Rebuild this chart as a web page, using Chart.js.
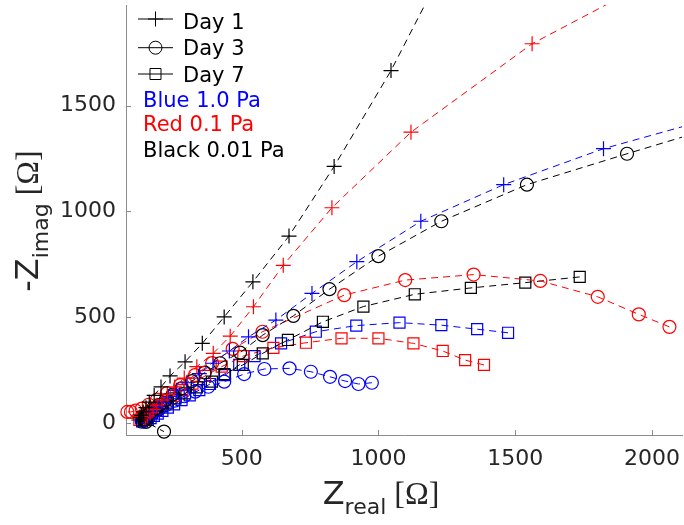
<!DOCTYPE html>
<html lang="en">
<head>
<meta charset="UTF-8">
<title>Nyquist plot</title>
<script src="https://cdn.jsdelivr.net/npm/chart.js"></script>
<style>
    body { margin: 0; background: #fff; }
    #wrap { width: 684px; height: 525px; }
</style>
</head>
<body>
<div id="wrap"><canvas id="nyquist" width="684" height="525"></canvas></div>
<script>
// impedance points [Z_real, -Z_imag] in ohm, low frequency end first
const blackDay1 = [[1285,2265],[1046,1665],[838,1212],[673,883],[541,667],[436,501],[356,376],[293,289],[238,222],[205,170],[180,130],[162,98],[150,72],[140,52],[133,36],[128,24],[124,14]];
const redDay1 = [[2000,2090],[1562,1792],[1119,1374],[830,1017],[652,745],[543,549],[458,410],[396,329],[336,266],[290,212],[255,170],[228,135],[208,108],[190,84],[176,64],[165,48],[155,34],[148,24]];
const blueDay1 = [[2250,1450],[1823,1296],[1458,1126],[1155,953],[921,762],[757,612],[625,486],[525,407],[455,340],[395,282],[345,233],[300,190],[262,155],[232,125],[208,100],[190,78],[175,60],[165,45],[157,32]];

const blackDay3 = [[2250,1405],[1909,1272],[1543,1126],[1230,953],[1000,788],[821,632],[689,506],[577,415],[494,332],[421,282],[365,238],[318,198],[280,164],[248,134],[222,108],[200,86],[182,66],[165,48],[152,32],[145,18],[150,5],[216,-41]];
const redDay3 = [[2064,454],[1952,513],[1802,596],[1592,671],[1348,701],[1098,675],[875,604],[576,431],[467,350],[392,283],[329,226],[275,179],[227,141],[190,110],[160,86],[135,68],[112,58],[95,52],[82,52]];
const blueDay3 = [[976,190],[927,184],[878,198],[823,218],[753,242],[675,258],[583,255],[509,231],[436,195],[378,171],[330,148],[290,126],[255,105],[225,86],[200,68],[180,52],[165,38],[152,25],[142,14],[135,6]];

const blackDay7 = [[1736,690],[1537,663],[1338,638],[1133,608],[945,550],[797,478],[669,392],[577,329],[504,274],[437,231],[391,195],[336,168],[293,140],[258,116],[230,96],[207,78],[188,62],[172,48],[160,36],[150,25],[142,15],[136,7]];
const redDay7 = [[1386,274],[1317,297],[1235,340],[1128,376],[1000,400],[865,400],[735,379],[616,355],[506,316],[427,266],[366,222],[320,186],[283,155],[252,128],[226,106],[204,87],[186,70],[170,56],[156,43],[144,32],[134,22],[126,14]];
const blueDay7 = [[1474,426],[1361,443],[1230,462],[1077,474],[919,460],[771,431],[644,376],[547,316],[491,274],[439,226],[384,184],[345,155],[310,130],[280,108],[253,88],[230,72],[210,57],[193,44],[179,33],[167,23],[157,14]];

const xTicks = [500, 1000, 1500, 2000];
const yTicks = [0, 500, 1000, 1500];
const xRange = [77, 2110];
const yRange = [-57, 1975];

const dayLabels = ['Day 1', 'Day 3', 'Day 7'];
const stressLabels = ['Blue 1.0 Pa', 'Red 0.1 Pa', 'Black 0.01 Pa'];
const stressColors = ['#0000ff', '#ff0000', '#000000'];

const axisColor = '#8c8c8c';
const textColor = '#262626';
const sans = 'DejaVu Sans';

// marker per day: + / circle / square
const markers = {
    cross: { style: 'cross', radius: 7.5 },
    circle: { style: 'circle', radius: 6.5 },
    rect: { style: 'rect', radius: 7.8 }
};

function series(points, color, marker) {
    return {
        data: points.map(p => ({ x: p[0], y: p[1] })),
        showLine: true,
        borderColor: color,
        borderWidth: 1,
        borderDash: [7, 5],
        pointStyle: marker.style,
        pointRadius: marker.radius,
        pointBorderColor: color,
        pointBackgroundColor: 'rgba(0,0,0,0)',
        pointBorderWidth: 1.2,
        clip: { left: 10, top: 0, right: 0, bottom: 10 }
    };
}

// no extra room for overhanging tick labels
function fixBox(s, size) {
    if (s.isHorizontal()) s.height = size; else s.width = size;
    s.paddingLeft = s.paddingRight = s.paddingTop = s.paddingBottom = 0;
}

// inward ticks, axis titles and the legend block
const decorations = {
    id: 'decorations',
    afterDraw(chart) {
        const ctx = chart.ctx;
        const area = chart.chartArea;
        const xs = chart.scales.x, ys = chart.scales.y;
        ctx.save();

        ctx.strokeStyle = axisColor;
        ctx.lineWidth = 1;
        xTicks.forEach(v => {
            const px = Math.round(xs.getPixelForValue(v)) + 0.5;
            ctx.beginPath();
            ctx.moveTo(px, area.bottom);
            ctx.lineTo(px, area.bottom - 5);
            ctx.stroke();
        });
        yTicks.forEach(v => {
            const py = Math.round(ys.getPixelForValue(v)) + 0.5;
            ctx.beginPath();
            ctx.moveTo(area.left, py);
            ctx.lineTo(area.left + 5, py);
            ctx.stroke();
        });

        // axis titles with subscripts
        function title(main, sub, unit) {
            ctx.font = '32px "' + sans + '"';
            const w1 = ctx.measureText(main).width;
            ctx.font = '22px "' + sans + '"';
            const w2 = ctx.measureText(sub).width;
            ctx.font = '32px "Liberation Serif"';
            const w3 = ctx.measureText(unit).width;
            let x = -(w1 + w2 + w3) / 2;
            ctx.textAlign = 'left';
            ctx.textBaseline = 'alphabetic';
            ctx.fillStyle = textColor;
            ctx.font = '32px "' + sans + '"';
            ctx.fillText(main, x, 0);
            x += w1;
            ctx.font = '22px "' + sans + '"';
            ctx.fillText(sub, x, 10);
            x += w2;
            ctx.font = '32px "Liberation Serif"';
            ctx.fillText(unit, x, 0);
        }
        ctx.save();
        ctx.translate(381, 504);
        title('Z', 'real', ' [\u03A9]');
        ctx.restore();

        ctx.save();
        ctx.translate(38, 221);
        ctx.rotate(-Math.PI / 2);
        title('-Z', 'imag', ' [\u03A9]');
        ctx.restore();

        // legend: day markers
        const rows = [19, 47.7, 74];
        const styles = [markers.cross, markers.circle, markers.rect];
        ctx.strokeStyle = '#000';
        ctx.fillStyle = 'rgba(0,0,0,0)';
        ctx.lineWidth = 1;
        rows.forEach((y, i) => {
            ctx.beginPath();
            ctx.moveTo(138, y);
            ctx.lineTo(173, y);
            ctx.stroke();
            Chart.helpers.drawPoint(ctx, {
                pointStyle: styles[i].style,
                radius: styles[i].radius,
                borderWidth: 1.2,
                rotation: 0
            }, 155.5, y);
        });
        ctx.font = '21px "' + sans + '"';
        ctx.textAlign = 'left';
        ctx.textBaseline = 'alphabetic';
        ctx.fillStyle = '#000';
        const dayBase = [28.5, 55, 81.5];
        dayLabels.forEach((t, i) => ctx.fillText(t, 183, dayBase[i]));

        const stressBase = [106.5, 131, 157];
        stressLabels.forEach((t, i) => {
            ctx.fillStyle = stressColors[i];
            ctx.fillText(t, 143, stressBase[i]);
        });

        ctx.restore();
    }
};

const ctx = document.getElementById('nyquist').getContext('2d');
new Chart(ctx, {
    type: 'scatter',
    data: {
        datasets: [
            series(blackDay1, '#000000', markers.cross),
            series(redDay1, '#ff0000', markers.cross),
            series(blueDay1, '#0000ff', markers.cross),
            series(blackDay3, '#000000', markers.circle),
            series(redDay3, '#ff0000', markers.circle),
            series(blueDay3, '#0000ff', markers.circle),
            series(blackDay7, '#000000', markers.rect),
            series(redDay7, '#ff0000', markers.rect),
            series(blueDay7, '#0000ff', markers.rect)
        ]
    },
    options: {
        responsive: false,
        animation: false,
        devicePixelRatio: 1,
        events: [],
        layout: { autoPadding: false, padding: { top: 5, right: 2, left: 0, bottom: 0 } },
        plugins: {
            legend: { display: false },
            tooltip: { enabled: false }
        },
        scales: {
            x: {
                type: 'linear',
                min: xRange[0],
                max: xRange[1],
                grid: { display: false, drawTicks: false },
                border: { display: true, color: axisColor, width: 1 },
                ticks: {
                    padding: 11,
                    color: textColor,
                    font: { family: sans, size: 22 },
                    callback: v => String(v)
                },
                afterBuildTicks: s => { s.ticks = xTicks.map(v => ({ value: v })); },
                afterFit: s => fixBox(s, 90)
            },
            y: {
                type: 'linear',
                min: yRange[0],
                max: yRange[1],
                grid: { display: false, drawTicks: false },
                border: { display: true, color: axisColor, width: 1 },
                ticks: {
                    padding: 10,
                    color: textColor,
                    font: { family: sans, size: 22 },
                    callback: v => String(v)
                },
                afterBuildTicks: s => { s.ticks = yTicks.map(v => ({ value: v })); },
                afterFit: s => fixBox(s, 126)
            }
        }
    },
    plugins: [decorations]
});
</script>
</body>
</html>
